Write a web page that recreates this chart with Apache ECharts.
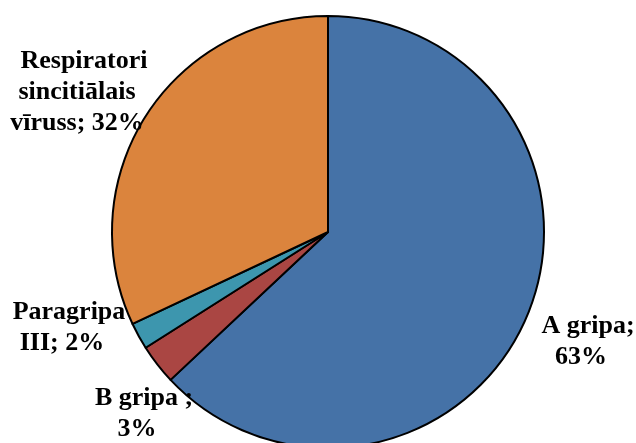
<!DOCTYPE html>
<html>
<head>
<meta charset="utf-8">
<script src="https://cdn.jsdelivr.net/npm/echarts@6/dist/echarts.min.js"></script>
<style>
html,body{margin:0;padding:0;background:#fff;}
#chart{width:636px;height:443px;}
</style>
</head>
<body>
<div id="chart"></div>
<script>
const categories = ['A gripa', 'B gripa', 'Paragripa III', 'Respiratori sincitiālais vīruss'];
const values = [63, 3, 2, 32];
const colors = ['#4572A7', '#AA4643', '#3D96AE', '#DB843D'];
const labelLines = [
  ['A gripa;', '{v}%'],
  ['B gripa ;', '{v}%'],
  ['Paragripa', 'III; {v}%'],
  ['Respiratori', 'sincitiālais', 'vīruss; {v}%']
];
// label anchor (block centre) positions in px
const labelPos = [[581, 342], [137, 414], [62, 328], [77, 92]];

const chart = echarts.init(document.getElementById('chart'), null, {renderer: 'canvas'});
chart.setOption({
  backgroundColor: '#fff',
  animation: false,
  series: [{
    type: 'pie',
    center: [328, 232],
    radius: 216,
    startAngle: 90,
    clockwise: true,
    avoidLabelOverlap: false,
    silent: true,
    emphasis: {disabled: true},
    itemStyle: {borderColor: '#000', borderWidth: 2},
    data: categories.map((c, i) => ({name: c, value: values[i], itemStyle: {color: colors[i]}})),
    label: {
      show: true,
      position: 'outside',
      fontFamily: 'Liberation Serif',
      fontWeight: 'bold',
      fontSize: 26,
      lineHeight: 31,
      color: '#000',
      align: 'center',
      formatter: p => {
        const lines = labelLines[p.dataIndex].map(s => s.replace('{v}', values[p.dataIndex]));
        return lines.map((s, k) => k === 0 ? '{f|' + s + '}' : '{r|' + s + '}').join('\n');
      },
      rich: {
        f: {fontFamily: 'Liberation Serif', fontWeight: 'bold', fontSize: 26, lineHeight: 31, color: '#000', padding: [0, 0, 0, 14]},
        r: {fontFamily: 'Liberation Serif', fontWeight: 'bold', fontSize: 26, lineHeight: 31, color: '#000'}
      }
    },
    labelLine: {show: false},
    labelLayout: p => ({
      x: labelPos[p.dataIndex][0],
      y: labelPos[p.dataIndex][1],
      align: 'center',
      verticalAlign: 'middle',
      hideOverlap: false
    })
  }]
});
</script>
</body>
</html>
